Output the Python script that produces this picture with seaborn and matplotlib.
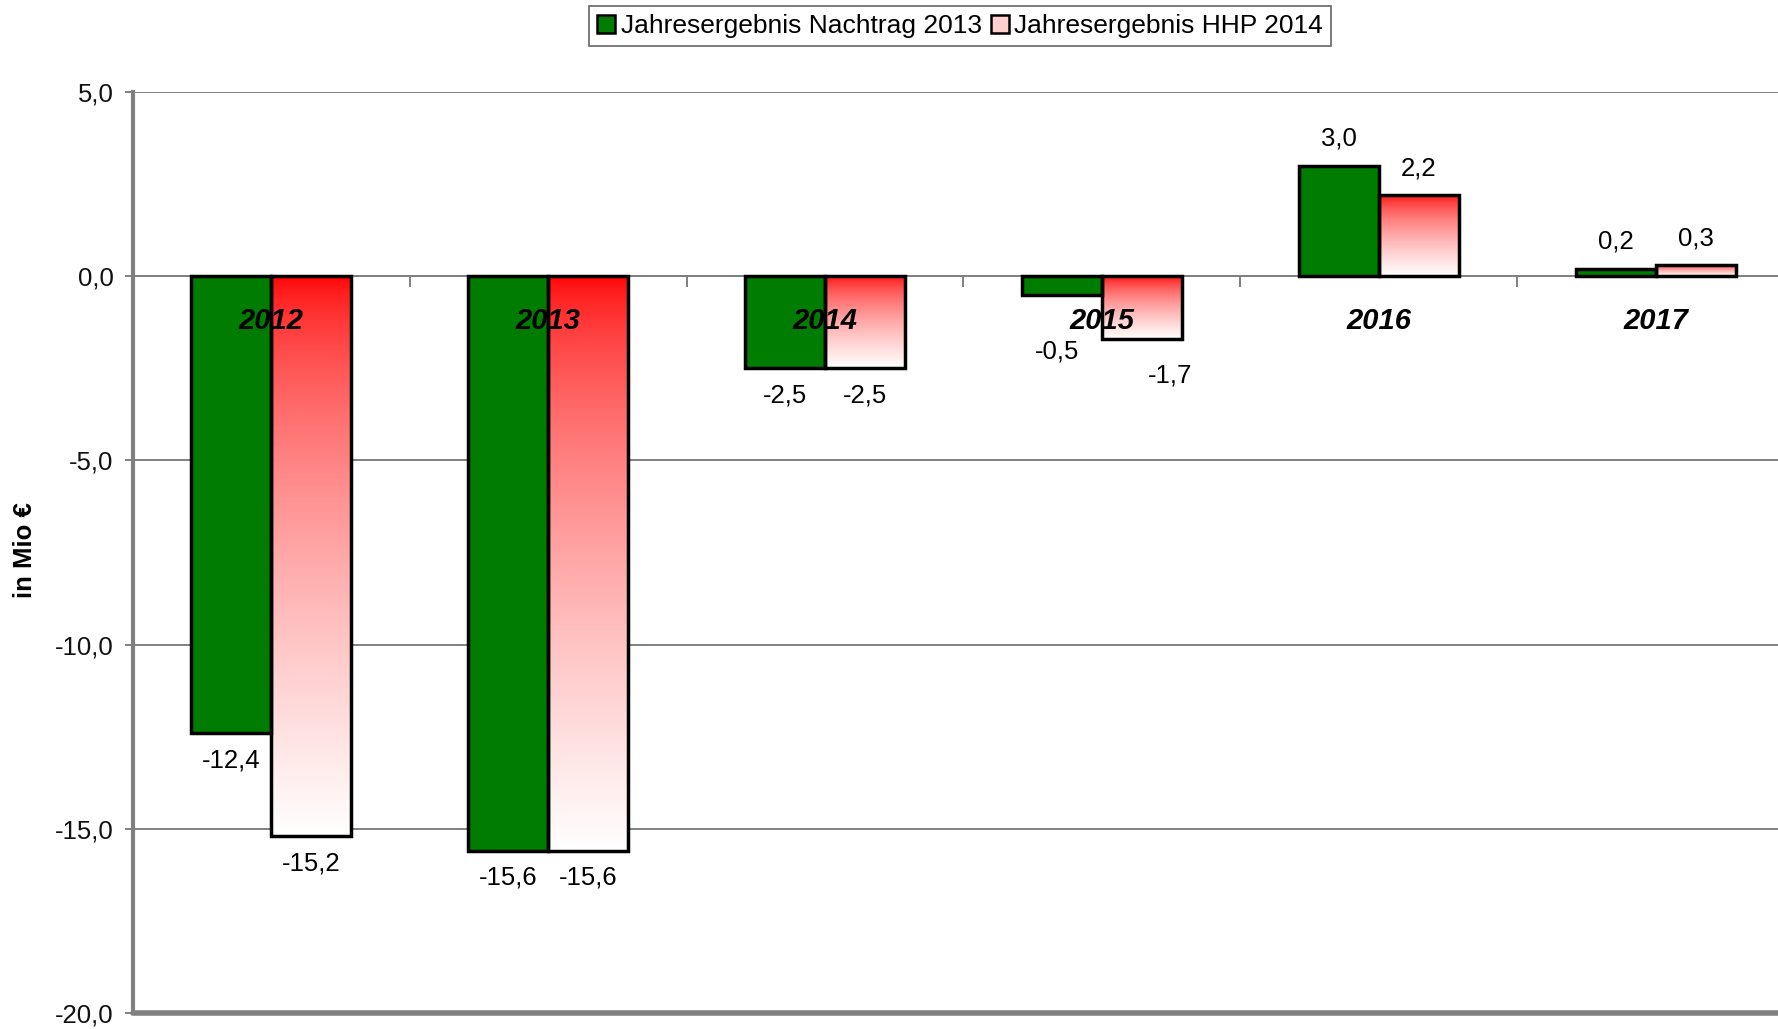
import numpy as np
import pandas as pd
import matplotlib
matplotlib.use("Agg")
import matplotlib.pyplot as plt
import seaborn as sns
from matplotlib.patches import Patch
from matplotlib.ticker import FuncFormatter, MultipleLocator, FixedLocator

# ---------------- data ----------------
years = ["2012", "2013", "2014", "2015", "2016", "2017"]
nachtrag_2013 = [-12.4, -15.6, -2.5, -0.5, 3.0, 0.2]
hhp_2014 = [-15.2, -15.6, -2.5, -1.7, 2.2, 0.3]
series_names = ["Jahresergebnis Nachtrag 2013", "Jahresergebnis HHP 2014"]
y_label = "in Mio €"

df = pd.DataFrame({
    "Jahr": years * 2,
    "Wert": nachtrag_2013 + hhp_2014,
    "Reihe": [series_names[0]] * len(years) + [series_names[1]] * len(years),
})

# ---------------- style ----------------
GREEN = "#007c00"
GRID = "#808080"
FS = 18.5

sns.set_theme(style="white")
plt.rcParams["font.family"] = ["Liberation Sans", "DejaVu Sans"]
plt.rcParams["text.color"] = "black"
plt.rcParams["axes.labelcolor"] = "black"

fig = plt.figure(figsize=(17.78, 10.29), dpi=100)
W, H = 1778, 1029
ax = fig.add_axes([133 / W, 16 / H, (1794 - 133) / W, (1013 - 92) / H])

sns.barplot(data=df, x="Jahr", y="Wert", hue="Reihe", order=years,
            hue_order=series_names, palette=[GREEN, "white"], width=0.578,
            gap=0, edgecolor="black", linewidth=2.5, saturation=1,
            legend=False, ax=ax, zorder=3)

# gradient fill for second series (red at top -> white at bottom)
t = np.linspace(0, 1, 256) ** 0.6
grad = np.zeros((256, 1, 3))
grad[:, 0, 0] = 1.0
grad[:, 0, 1] = t
grad[:, 0, 2] = t
for bar in ax.containers[1]:
    x0 = bar.get_x()
    w = bar.get_width()
    y0 = bar.get_y()
    h = bar.get_height()
    ylo, yhi = min(y0, y0 + h), max(y0, y0 + h)
    bar.set_facecolor("none")
    ax.imshow(grad, extent=(x0, x0 + w, ylo, yhi), aspect="auto",
              origin="upper", zorder=2.9, interpolation="bilinear")

ax.set_xlim(-0.5, len(years) - 0.5)
ax.set_ylim(-20, 5)

# grid + spines
ax.set_axisbelow(True)
ax.yaxis.grid(True, color=GRID, linewidth=1.4)
ax.xaxis.grid(False)
for s in ["top", "right"]:
    ax.spines[s].set_visible(False)
ax.spines["left"].set_color(GRID)
ax.spines["left"].set_linewidth(3)
ax.spines["bottom"].set_position(("data", 0))
ax.spines["bottom"].set_color(GRID)
ax.spines["bottom"].set_linewidth(1.4)
ax.axhline(-20, color=GRID, linewidth=4, clip_on=False, zorder=4)

# ticks
ax.yaxis.set_major_locator(MultipleLocator(5))
ax.yaxis.set_major_formatter(FuncFormatter(lambda v, p: f"{v:.1f}".replace(".", ",")))
ax.tick_params(axis="y", direction="out", length=6, width=1.4, color=GRID,
               labelsize=FS, labelcolor="#111111", pad=8, left=True)
ax.set_xticks(range(len(years)))
ax.set_xticklabels([])
ax.xaxis.set_minor_locator(FixedLocator(np.arange(-0.5, len(years), 1.0)))
ax.tick_params(axis="x", which="major", length=0)
ax.tick_params(axis="x", which="minor", direction="out", length=8, width=1.4,
               color=GRID, bottom=True)
ax.set_xlabel("")

ax.set_ylabel(y_label, fontsize=FS, fontweight="bold", va="center", color="black")
ax.yaxis.set_label_coords((25 - 133) / (1794 - 133), 0.503)

# year labels on category axis (drawn over bars)
for i, yr in enumerate(years):
    ax.annotate(yr, xy=(i, 0), xytext=(0, -45), textcoords="offset pixels",
                ha="center", va="center", fontsize=21, fontweight="bold",
                fontstyle="italic", color="black", zorder=10)

# data labels
special = {(0, 3): (-5, -57), (1, 3): (28, -37)}
for si, (cont, vals) in enumerate(zip(ax.containers[:2], [nachtrag_2013, hhp_2014])):
    for ci, (bar, v) in enumerate(zip(cont, vals)):
        cx = bar.get_x() + bar.get_width() / 2
        off = special.get((si, ci), (0, 27 if v > 0 else -27))
        ax.annotate(f"{v:.1f}".replace(".", ","), xy=(cx, v), xytext=off,
                    textcoords="offset pixels", ha="center", va="center",
                    fontsize=FS, color="black", zorder=10)

# legend
handles = [Patch(facecolor=GREEN, edgecolor="black", linewidth=1.8),
           Patch(facecolor="#ffcfcf", edgecolor="black", linewidth=1.8)]
leg = fig.legend(handles, series_names, loc="center", bbox_to_anchor=(960 / W, 1 - 26 / H),
                 ncol=2, frameon=True, fancybox=False, edgecolor="#404040",
                 fontsize=19, handlelength=0.7, handleheight=0.7, handletextpad=0.2,
                 columnspacing=0.35, borderpad=0.3, borderaxespad=0)
leg.get_frame().set_linewidth(1.2)
for txt in leg.get_texts():
    txt.set_color("black")

fig.savefig("out.png", dpi=100)
